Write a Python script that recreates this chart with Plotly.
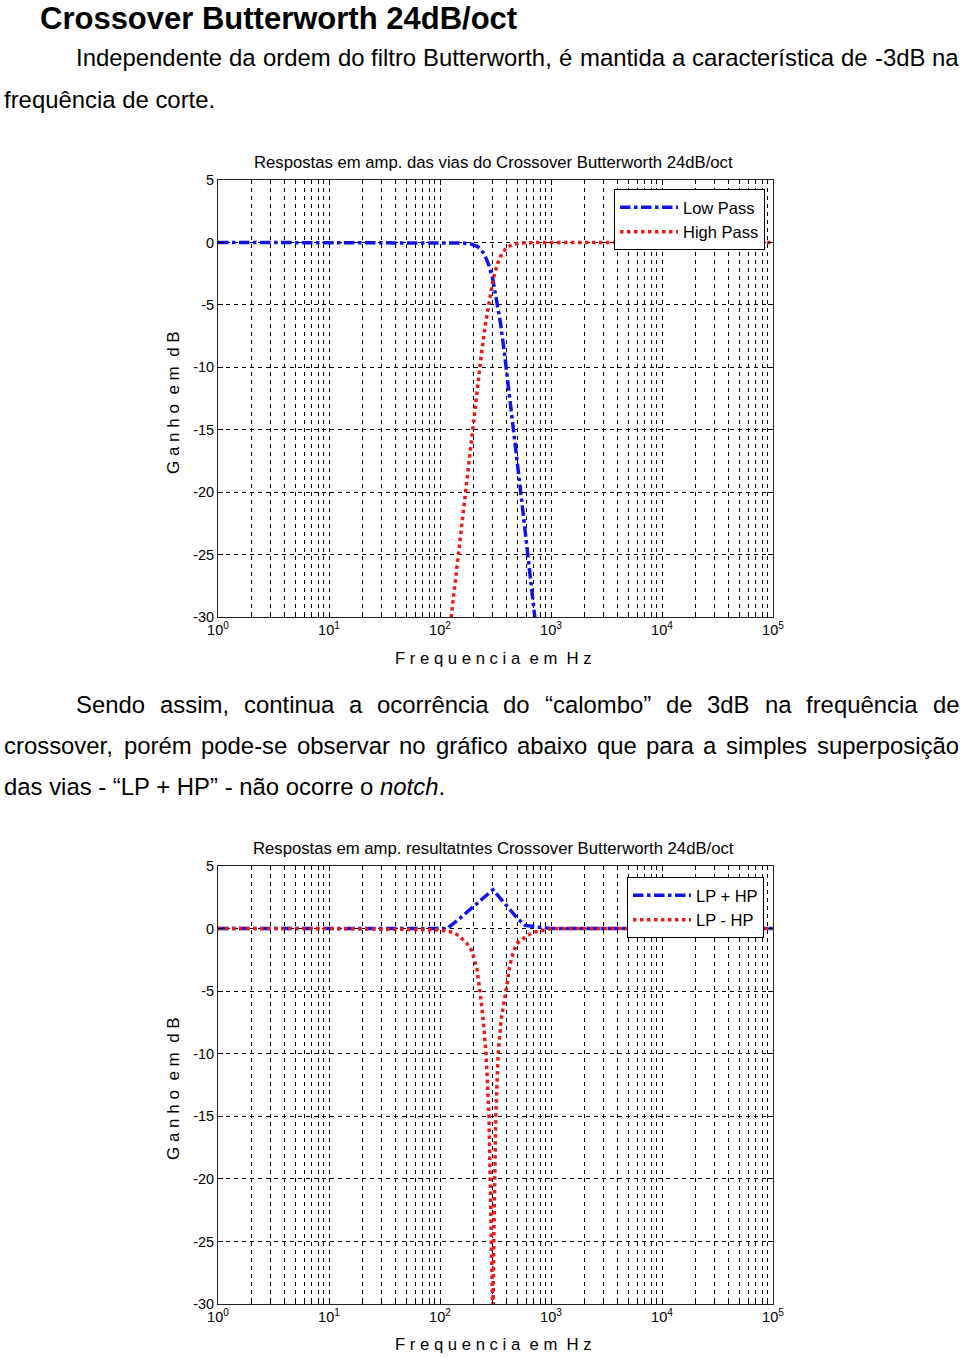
import plotly.graph_objects as go

W, H = 960, 1358
FONT = "Liberation Sans, Arial, Helvetica, sans-serif"

# ---------------- data ----------------
# Chart 1: individual ways of the 24 dB/oct Butterworth crossover
lp_freq = [1, 2, 5, 10, 20, 50, 100, 130, 160, 190, 220, 250, 275, 300, 325, 350,
           380, 420, 460, 500, 550, 600, 650, 700, 725]
lp_db = [0, 0, 0, 0, 0, 0, 0, -0.01, -0.05, -0.12, -0.35, -0.9, -1.8, -3.0, -4.6, -6.4,
         -8.8, -12.0, -15.0, -17.8, -21.0, -24.0, -26.7, -29.3, -30.5]

hp_freq = [124, 135, 150, 165, 180, 200, 215, 235, 255, 275, 300, 330, 360, 400, 450,
           520, 600, 800, 1000, 2000, 5000, 10000, 20000, 50000, 100000]
hp_db = [-30.6, -27.7, -24.1, -20.8, -17.8, -14.2, -11.9, -9.1, -6.7, -4.8, -3.0, -1.7,
         -0.9, -0.4, -0.17, -0.05, -0.02, 0, 0, 0, 0, 0, 0, 0, 0]

# Chart 2: resulting responses
sum_freq = [1, 10, 100, 116, 150, 200, 250, 300, 350, 400, 450, 500, 585, 700, 940,
            1000, 10000, 100000]
sum_db = [0, 0, 0, 0, 0.8, 1.8, 2.5, 3.1, 2.4, 1.8, 1.3, 0.8, 0.25, 0.15, 0.05, 0, 0, 0]

diff_freq = [1, 10, 100, 130, 150, 175, 194, 215, 229, 245, 260, 270, 276, 283, 288,
             300, 305, 311, 318, 334, 355, 393, 420, 450, 493, 600, 692, 900, 1000,
             10000, 100000]
diff_db = [0, 0, -0.1, -0.3, -0.6, -1.2, -1.8, -3.2, -5.0, -7.3, -10.0, -13.0, -15.0,
           -20.0, -25.0, -32.0, -25.0, -20.0, -15.0, -10.0, -7.3, -5.0, -3.2, -2.1,
           -1.2, -0.6, -0.3, -0.1, 0, 0, 0]

x_tick_vals = [1, 10, 100, 1000, 10000, 100000]
x_tick_text = ["10<sup>0</sup>", "10<sup>1</sup>", "10<sup>2</sup>", "10<sup>3</sup>",
               "10<sup>4</sup>", "10<sup>5</sup>"]
y_tick_vals = [-30, -25, -20, -15, -10, -5, 0, 5]
y_tick_text = ["-30", "-25", "-20", "-15", "-10", "-5", "0", "5"]

legend1_names = ["Low Pass", "High Pass"]
legend2_names = ["LP + HP", "LP - HP"]


# ---------------- layout helpers (page pixel -> paper) ----------------
def px(x):
    return x / W


def py(y):
    return 1 - y / H


BLUE = "rgb(18,18,235)"
RED = "rgb(232,28,28)"
LW = 3.5

fig = go.Figure()
fig.add_trace(go.Scatter(x=lp_freq, y=lp_db, mode="lines", name=legend1_names[0],
                         line=dict(color=BLUE, width=LW, dash="dashdot"),
                         xaxis="x", yaxis="y", legend="legend"))
fig.add_trace(go.Scatter(x=hp_freq, y=hp_db, mode="lines", name=legend1_names[1],
                         line=dict(color=RED, width=LW, dash="dot"),
                         xaxis="x", yaxis="y", legend="legend"))
fig.add_trace(go.Scatter(x=sum_freq, y=sum_db, mode="lines", name=legend2_names[0],
                         line=dict(color=BLUE, width=LW, dash="dashdot"),
                         xaxis="x2", yaxis="y2", legend="legend2"))
fig.add_trace(go.Scatter(x=diff_freq, y=diff_db, mode="lines", name=legend2_names[1],
                         line=dict(color=RED, width=LW, dash="dot"),
                         xaxis="x2", yaxis="y2", legend="legend2"))

GRID = dict(showgrid=True, gridcolor="black", gridwidth=1, griddash="4px,4px")


def xaxis_cfg(anchor):
    return dict(type="log", range=[0, 5], domain=[px(218), px(773)], anchor=anchor,
                tickmode="array", tickvals=x_tick_vals, ticktext=x_tick_text,
                ticks="inside", ticklen=5, tickcolor="black",
                showline=True, linecolor="#222", linewidth=1, mirror="allticks",
                zeroline=False, fixedrange=True,
                tickfont=dict(family=FONT, size=14.5, color="black"),
                minor=dict(dtick="D1", ticks="inside", ticklen=3, tickcolor="black",
                           **GRID),
                **GRID)


def yaxis_cfg(anchor, top, bottom):
    return dict(range=[-30, 5], domain=[py(bottom), py(top)], anchor=anchor,
                tickmode="array", tickvals=y_tick_vals, ticktext=y_tick_text,
                ticks="inside", ticklen=5, tickcolor="black",
                showline=True, linecolor="#222", linewidth=1, mirror="allticks",
                zeroline=False, fixedrange=True,
                tickfont=dict(family=FONT, size=14.5, color="black"),
                **GRID)


def legend_cfg(left, top):
    return dict(x=px(left), y=py(top), xanchor="left", yanchor="top",
                bgcolor="white", bordercolor="black", borderwidth=1,
                font=dict(family=FONT, size=16.5, color="black"),
                itemwidth=58, tracegroupgap=0)


TXT = 23.9
ann = []


def text(t, x, y, size=TXT, xanchor="left", **kw):
    ann.append(dict(text=t, x=px(x), y=py(y), xref="paper", yref="paper",
                    xanchor=xanchor, yanchor="middle", showarrow=False,
                    font=dict(family=FONT, size=size, color="black"), **kw))


def justified(words, xs, y, pull=3.0):
    # pull the line end slightly inside the page edge so no glyph is clipped
    n = len(words)
    for i, (w_, x_) in enumerate(zip(words, xs)):
        text(w_, x_ - pull * i / (n - 1), y)


# Document text
text("<b>Crossover Butterworth 24dB/oct</b>", 38, 19, size=31)

line1_words = ["Independente", "da", "ordem", "do", "filtro", "Butterworth,", "é",
               "mantida", "a", "característica", "de", "-3dB", "na"]
line1_x = [74, 227.5, 261.4, 336.4, 370.3, 422.7, 558.8, 579.4, 671.7, 692.3,
           841.7, 875.6, 933.4]
justified(line1_words, line1_x, 58)
text("frequência de corte.", 2, 99.5)

sendo_words = ["Sendo", "assim,", "continua", "a", "ocorrência", "do", "“calombo”",
               "de", "3dB", "na", "frequência", "de"]
sendo_x = [74, 158.2, 242.3, 347.7, 376.1, 502.8, 544.5, 665.8, 707.5, 765.1,
           806.8, 933.5]
justified(sendo_words, sendo_x, 704.5)

cross_words = ["crossover,", "porém", "pode-se", "observar", "no", "gráfico", "abaixo",
               "que", "para", "a", "simples", "superposição"]
cross_x = [2, 122, 199.5, 295.7, 398.5, 434.9, 516.4, 596.6, 646.3, 703.9, 727,
           817.8]
justified(cross_words, cross_x, 745.5)
text("das vias - “LP + HP” - não ocorre o <i>notch</i>.", 2, 786)

# Chart labels
OFF = 686
for k, title in enumerate(["Respostas em amp. das vias do Crossover Butterworth 24dB/oct",
                           "Respostas em amp. resultatntes Crossover Butterworth 24dB/oct"]):
    d = k * OFF
    text(title, 493, 162.5 + d, size=16.7, xanchor="center")
    text("G a n h o  e m  d B", 173, 403 + d, size=17, xanchor="center", textangle=-90)
    text("F r e q u e n c i a  e m  H z", 493, 658 + d, size=16.7, xanchor="center")

fig.update_layout(
    width=W, height=H, margin=dict(l=0, r=0, t=0, b=0, autoexpand=False),
    paper_bgcolor="white", plot_bgcolor="white",
    xaxis=xaxis_cfg("y"), yaxis=yaxis_cfg("x", 180, 617),
    xaxis2=xaxis_cfg("y2"), yaxis2=yaxis_cfg("x2", 866, 1304),
    legend=legend_cfg(614, 189), legend2=legend_cfg(627, 877),
    showlegend=True, annotations=ann,
)

fig.write_html("out.html")
